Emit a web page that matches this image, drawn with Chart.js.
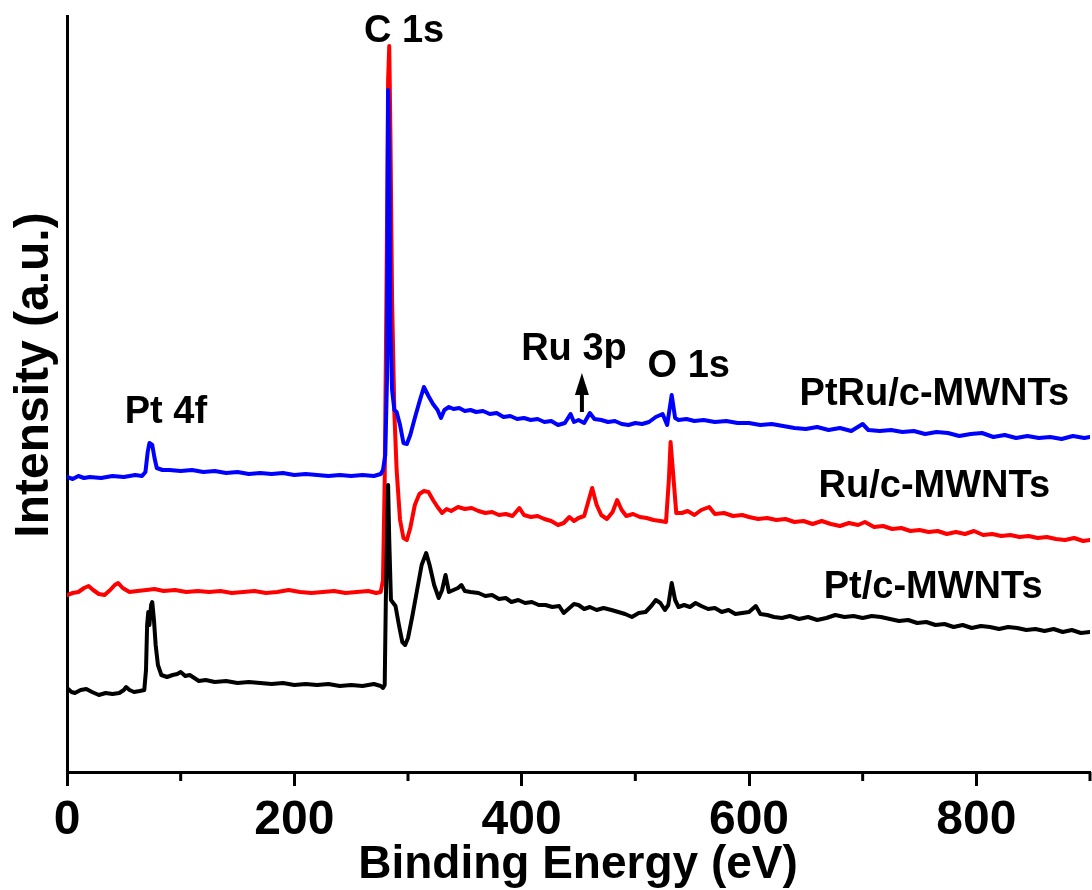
<!DOCTYPE html>
<html>
<head>
<meta charset="utf-8">
<script src="https://cdn.jsdelivr.net/npm/chart.js@4.4.1/dist/chart.umd.min.js"></script>
<style>
  html, body { margin: 0; padding: 0; background: #fff; }
  #wrap { width: 1092px; height: 890px; }
</style>
</head>
<body>
<div id="wrap"><canvas id="xps"></canvas></div>
<script>
// binding energy (eV) and intensity (a.u.)
const ptRuEnergy = [0,5,10,15,20,30,40,50,60,66,69,71,72.5,75,77,79,84,90,100,110,120,130,140,150,160,170,180,190,200,210,220,230,240,250,260,270,276,278,280,281.5,282.5,283.5,284.5,286,288,290,293,296,299,302,306,310,314,318,322,326,329,332,336,340,345,350,355,360,366,372,378,384,390,396,402,408,414,420,426,432,438,443,446,450,455,460,464,470,476,482,488,494,500,506,512,518,524,528,532,535,538,545,552,560,570,580,590,600,610,620,630,640,650,660,670,680,690,700,705,715,725,735,745,755,765,775,785,795,805,815,825,835,845,855,865,875,885,895,900]
const ptRuIntensity = [295,293,296,294,295,294,296,295,297,296,300,320,329,327,314,304,302,302,301,302,300,301,299,300,298,299,298,299,297,298,297,296,297,296,297,296,298,302,317,392,682,622,442,382,362,360,347,329,328,337,354,370,385,376,368,362,354,362,365,363,364,361,362,360,361,358,359,355,356,353,354,352,353,350,351,347,349,358,350,352,349,359,353,352,350,351,348,347,349,348,350,355,358,347,377,354,352,353,351,352,350,351,349,349,347,348,346,344,343,345,342,344,341,348,342,341,342,340,341,338,340,339,336,338,339,335,337,334,336,334,335,333,336,334,335]

const ruEnergy = [0,5,10,15,19,23,28,33,38,42,45,49,55,62,70,77,85,95,105,115,125,135,145,155,165,175,185,195,205,215,225,235,245,255,265,272,276,278,279.5,281,282.5,283.5,284.5,286,288,290,293,296,299,302,306,310,314,318,322,326,330,334,338,344,350,356,362,368,374,380,386,392,398,402,408,414,420,426,432,437,442,446,450,455,459,462,466,470,475,480,484,488,492,498,504,510,516,522,527,529.5,531,533,536,541,546,552,558,565,570,578,586,594,600,608,616,624,632,640,648,656,664,672,680,688,696,702,710,718,726,734,742,750,758,766,774,782,790,798,806,814,822,830,838,846,854,862,870,878,886,894,900]
const ruIntensity = [177,179,180,184,186,182,178,177,182,187,189,184,180,181,182,183,181,182,180,181,180,181,179,180,181,179,180,182,180,179,180,181,179,180,181,179,180,192,292,472,692,726,642,472,359,302,252,234,232,244,267,278,281,280,272,265,259,263,261,265,263,264,261,259,260,257,258,256,264,257,255,256,253,251,247,249,255,251,254,256,272,284,267,257,253,260,272,262,256,258,255,254,252,251,250,292,330,302,259,259,261,257,262,265,258,259,256,257,255,253,254,252,253,250,251,248,251,248,246,249,247,250,245,246,243,244,241,242,240,241,238,240,238,241,237,238,236,237,235,236,234,235,233,232,234,231,232]

const ptEnergy = [0,4,7,12,17,22,28,34,40,46,50,52,55,59,64,68,69.5,70.5,71.5,72.5,74,75,76.5,78,80,83,88,93,97,100,104,108,112,116,122,130,140,150,160,170,180,190,200,210,220,230,240,250,260,270,276,278,279.5,280.5,282.5,283.5,285,287,289,292,295,297.5,300,304,308,312,316,319,323,327,330,333,336,340,344,347,350,355,362,368,374,380,386,391,397,403,409,415,421,427,433,437,442,446,450,455,460,466,472,479,485,491,497,503,509,514,518,522,526,529,532,535,538,543,548,553,558,564,570,576,582,588,594,600,606,610,616,622,629,636,644,652,660,668,676,684,692,700,708,716,724,732,740,748,756,764,772,780,788,796,804,812,820,828,836,844,852,860,868,876,884,892,900]
const ptIntensity = [84,80,79,82,83,80,77,79,78,79,82,85,82,80,81,82,102,147,160,147,167,170,152,127,107,97,95,97,98,100,96,97,94,91,92,90,91,89,90,89,88,89,87,88,87,88,86,87,86,88,86,84,87,172,287,232,172,169,166,147,130,127,134,157,182,207,219,207,187,174,182,197,180,182,184,187,181,180,179,176,177,173,174,170,172,169,170,167,167,165,166,159,164,168,167,163,165,162,164,162,160,158,155,159,160,166,172,169,162,167,189,172,165,167,165,169,166,163,164,160,162,158,159,160,166,158,157,155,154,156,153,155,152,154,157,155,156,154,156,155,153,151,152,149,150,147,148,145,147,144,146,145,143,145,144,142,143,141,143,140,142,139,140]

const xTicks = [0, 200, 400, 600, 800]
const xMinorTicks = [100, 300, 500, 700, 900]

const FONT = '"Liberation Sans", Arial, sans-serif'

const pairs = (xs, ys) => xs.map((x, i) => ({ x: x, y: ys[i] }))

// peak labels and curve names, placed in data coordinates
const notes = [
  { text: 'C 1s', x: 296.5, y: 730 },
  { text: 'Pt 4f', x: 87, y: 349 },
  { text: 'Ru 3p', x: 446, y: 412 },
  { text: 'O 1s', x: 547, y: 395 },
  { text: 'PtRu/c-MWNTs', x: 763, y: 367 },
  { text: 'Ru/c-MWNTs', x: 763, y: 275 },
  { text: 'Pt/c-MWNTs', x: 762, y: 174 }
]

const extras = {
  id: 'extras',
  afterDraw(chart) {
    const ctx = chart.ctx
    const xs = chart.scales.x
    const ys = chart.scales.y
    const bottom = chart.chartArea.bottom
    ctx.save()
    ctx.strokeStyle = '#000'
    ctx.lineWidth = 3
    xMinorTicks.forEach(v => {
      const px = xs.getPixelForValue(v)
      ctx.beginPath()
      ctx.moveTo(px, bottom)
      ctx.lineTo(px, bottom + 9)
      ctx.stroke()
    })

    ctx.fillStyle = '#000'
    ctx.font = 'bold 38px ' + FONT
    ctx.textAlign = 'center'
    ctx.textBaseline = 'alphabetic'
    notes.forEach(n => {
      ctx.fillText(n.text, xs.getPixelForValue(n.x), ys.getPixelForValue(n.y))
    })

    // arrow under Ru 3p
    const ax = xs.getPixelForValue(453)
    const aTop = ys.getPixelForValue(399)
    const aBot = ys.getPixelForValue(360)
    ctx.lineWidth = 4
    ctx.beginPath()
    ctx.moveTo(ax, aBot)
    ctx.lineTo(ax, aTop + 18)
    ctx.stroke()
    ctx.beginPath()
    ctx.moveTo(ax, aTop)
    ctx.lineTo(ax - 7, aTop + 22)
    ctx.lineTo(ax + 7, aTop + 22)
    ctx.closePath()
    ctx.fill()

    // axis titles
    ctx.font = 'bold 46px ' + FONT
    ctx.textBaseline = 'middle'
    ctx.fillText('Binding Energy (eV)', 578, 865)
    ctx.font = 'bold 48px ' + FONT
    ctx.translate(35, 375)
    ctx.rotate(-Math.PI / 2)
    ctx.fillText('Intensity (a.u.)', 0, 0)
    ctx.restore()
  }
}

new Chart(document.getElementById('xps'), {
  type: 'line',
  data: {
    datasets: [{
      label: 'Pt/c-MWNTs',
      data: pairs(ptEnergy, ptIntensity),
      borderColor: '#000000'
    }, {
      label: 'PtRu/c-MWNTs',
      data: pairs(ptRuEnergy, ptRuIntensity),
      borderColor: '#0000ff'
    }, {
      label: 'Ru/c-MWNTs',
      data: pairs(ruEnergy, ruIntensity),
      borderColor: '#ff0000'
    }]
  },
  options: {
    responsive: true,
    maintainAspectRatio: false,
    animation: false,
    layout: { padding: { top: 16, right: 2, left: 0, bottom: 0 } },
    elements: {
      line: { borderWidth: 4, tension: 0, borderJoinStyle: 'round', borderCapStyle: 'round' },
      point: { radius: 0 }
    },
    plugins: {
      legend: { display: false },
      tooltip: { enabled: false }
    },
    scales: {
      x: {
        type: 'linear',
        min: 0,
        max: 900,
        afterFit: s => { s.height = 118 },
        afterBuildTicks: s => { s.ticks = xTicks.map(v => ({ value: v })) },
        border: { display: true, width: 3, color: '#000' },
        grid: { drawOnChartArea: false, drawTicks: true, tickLength: 14, tickWidth: 3, tickColor: '#000' },
        ticks: {
          color: '#000',
          padding: 6,
          maxRotation: 0,
          font: { family: FONT, size: 48, weight: 'bold' }
        }
      },
      y: {
        min: 0,
        max: 756,
        afterFit: s => { s.width = 67 },
        border: { display: true, width: 3, color: '#000' },
        grid: { display: false },
        ticks: { display: false }
      }
    }
  },
  plugins: [extras]
})
</script>
</body>
</html>
